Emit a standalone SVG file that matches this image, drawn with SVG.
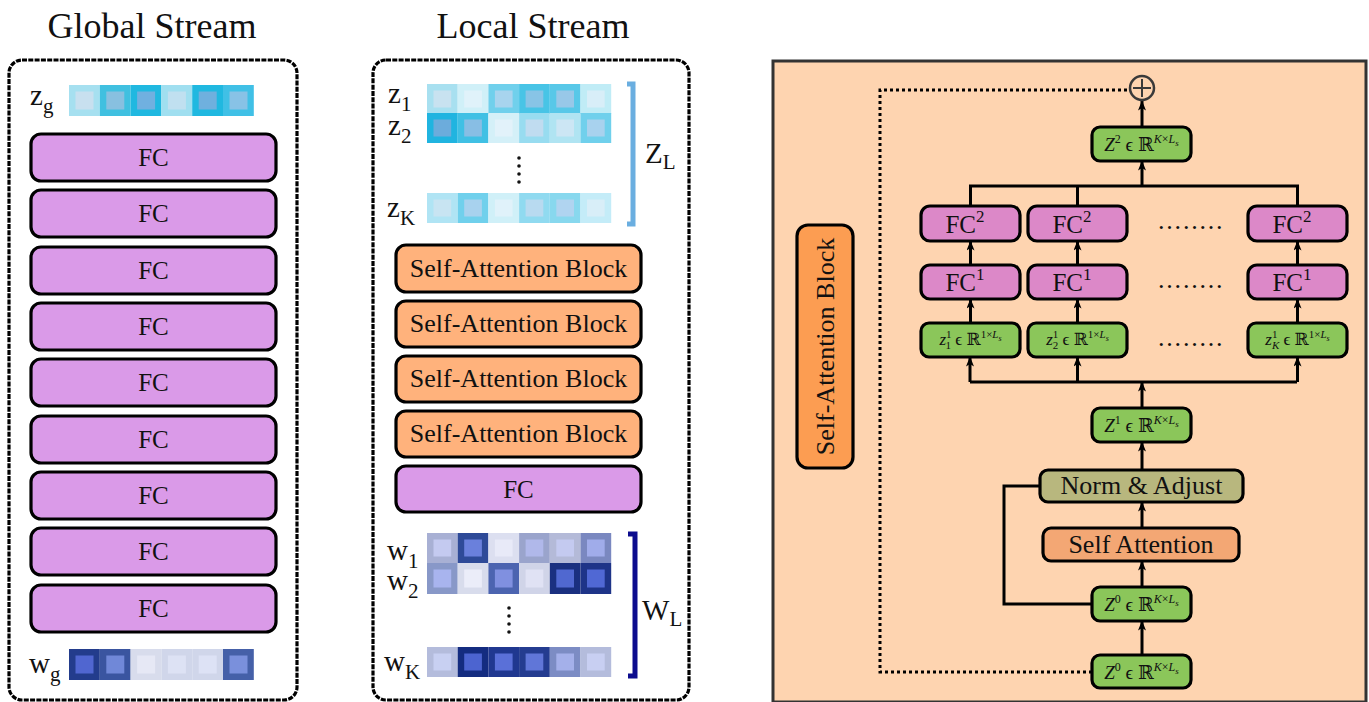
<svg xmlns="http://www.w3.org/2000/svg" width="1369" height="702" viewBox="0 0 1369 702">
<defs>
<marker id="ah" markerUnits="userSpaceOnUse" markerWidth="10" markerHeight="8" refX="9.5" refY="4" orient="auto">
<path d="M0,0 L10,4 L0,8 L2.5,4 z" fill="#000"/>
</marker>
<style>
text{font-family:"Liberation Serif","DejaVu Serif",serif;fill:#111}
.title{font-size:36px;text-anchor:middle}
.stream{fill:#fff;stroke:#000;stroke-width:3.2;stroke-dasharray:5 1.3}
.box{stroke:#000;stroke-width:3.2}
.fcg{fill:#da9ae8}
.sab{fill:#ffb27c}
.fcr{fill:#dc88c8}
.grn{fill:#8bc65a}
.lbl{font-size:25px;text-anchor:middle}
.lbl26{font-size:26px;text-anchor:middle}
.math{font-size:19px;text-anchor:middle}
.mz{font-size:17px;text-anchor:middle}
.var{font-size:29px}
.it{font-style:italic}
.conn{fill:none;stroke:#000;stroke-width:3}
.arr{fill:none;stroke:#000;stroke-width:3;marker-end:url(#ah)}
.dot{fill:none;stroke:#000;stroke-width:3;stroke-dasharray:3 3}
</style>
</defs>

<rect x="0" y="0" width="1369" height="702" fill="#fff"/>

<!-- Global stream -->
<g id="global-stream">
<text class="title" x="152" y="38">Global Stream</text>
<rect class="stream" x="9" y="60" width="288" height="640" rx="13"/>
<text class="var" x="30" y="105">z<tspan font-size="21" dy="8">g</tspan></text>
<g id="zg-row">
<rect x="69" y="85" width="30.8" height="31" fill="#a6e0f0"/><rect x="75.5" y="91.5" width="18" height="18" fill="#c8e0ef"/>
<rect x="99.8" y="85" width="30.8" height="31" fill="#40c0e0"/><rect x="106.3" y="91.5" width="18" height="18" fill="#88c0e0"/>
<rect x="130.6" y="85" width="30.8" height="31" fill="#20b8e0"/><rect x="137.1" y="91.5" width="18" height="18" fill="#70b0e0"/>
<rect x="161.4" y="85" width="30.8" height="31" fill="#a0dff0"/><rect x="167.9" y="91.5" width="18" height="18" fill="#c0e0f0"/>
<rect x="192.2" y="85" width="30.8" height="31" fill="#20b8e0"/><rect x="198.7" y="91.5" width="18" height="18" fill="#6fb0de"/>
<rect x="223" y="85" width="30.8" height="31" fill="#40c0e6"/><rect x="229.5" y="91.5" width="18" height="18" fill="#88c2e6"/>
</g>
<g id="g-fc1"><rect class="box fcg" x="31" y="134" width="245" height="47" rx="10"/><text class="lbl" x="153.5" y="166">FC</text></g>
<g id="g-fc2"><rect class="box fcg" x="31" y="190" width="245" height="47" rx="10"/><text class="lbl" x="153.5" y="222">FC</text></g>
<g id="g-fc3"><rect class="box fcg" x="31" y="247" width="245" height="47" rx="10"/><text class="lbl" x="153.5" y="279">FC</text></g>
<g id="g-fc4"><rect class="box fcg" x="31" y="303" width="245" height="47" rx="10"/><text class="lbl" x="153.5" y="335">FC</text></g>
<g id="g-fc5"><rect class="box fcg" x="31" y="359" width="245" height="47" rx="10"/><text class="lbl" x="153.5" y="391">FC</text></g>
<g id="g-fc6"><rect class="box fcg" x="31" y="416" width="245" height="47" rx="10"/><text class="lbl" x="153.5" y="448">FC</text></g>
<g id="g-fc7"><rect class="box fcg" x="31" y="472" width="245" height="47" rx="10"/><text class="lbl" x="153.5" y="504">FC</text></g>
<g id="g-fc8"><rect class="box fcg" x="31" y="528" width="245" height="47" rx="10"/><text class="lbl" x="153.5" y="560">FC</text></g>
<g id="g-fc9"><rect class="box fcg" x="31" y="585" width="245" height="47" rx="10"/><text class="lbl" x="153.5" y="617">FC</text></g>
<text class="var" x="29" y="673">w<tspan font-size="21" dy="8">g</tspan></text>
<g id="wg-row">
<rect x="69" y="649" width="30.8" height="31" fill="#233c8c"/><rect x="75.5" y="655.5" width="18" height="18" fill="#5066d0"/>
<rect x="99.8" y="649" width="30.8" height="31" fill="#3a55a0"/><rect x="106.3" y="655.5" width="18" height="18" fill="#7088d8"/>
<rect x="130.6" y="649" width="30.8" height="31" fill="#d8dcec"/><rect x="137.1" y="655.5" width="18" height="18" fill="#e6e8f5"/>
<rect x="161.4" y="649" width="30.8" height="31" fill="#d0d6ea"/><rect x="167.9" y="655.5" width="18" height="18" fill="#dde2f4"/>
<rect x="192.2" y="649" width="30.8" height="31" fill="#d0d6ea"/><rect x="198.7" y="655.5" width="18" height="18" fill="#dde2f5"/>
<rect x="223" y="649" width="30.8" height="31" fill="#4560a8"/><rect x="229.5" y="655.5" width="18" height="18" fill="#7a90dc"/>
</g>
</g>

<!-- Local stream -->
<g id="local-stream">
<text class="title" x="533" y="38">Local Stream</text>
<rect class="stream" x="373" y="60" width="316" height="640" rx="13"/>
<text class="var" x="388" y="103">z<tspan font-size="21" dy="8">1</tspan></text>
<text class="var" x="388" y="135">z<tspan font-size="21" dy="8">2</tspan></text>
<text class="var" x="387" y="217">z<tspan font-size="21" dy="8">K</tspan></text>
<g id="z1-row">
<rect x="427" y="84" width="30.7" height="30" fill="#a8e0f0"/><rect x="433.5" y="90.5" width="17.7" height="17" fill="#c8e2f0"/>
<rect x="457.7" y="84" width="30.7" height="30" fill="#d0f0f8"/><rect x="464.2" y="90.5" width="17.7" height="17" fill="#e0f2fa"/>
<rect x="488.4" y="84" width="30.7" height="30" fill="#70d0ec"/><rect x="494.9" y="90.5" width="17.7" height="17" fill="#a8d4ee"/>
<rect x="519.1" y="84" width="30.7" height="30" fill="#48c4e6"/><rect x="525.6" y="90.5" width="17.7" height="17" fill="#88c4e6"/>
<rect x="549.8" y="84" width="30.7" height="30" fill="#58c8e8"/><rect x="556.3" y="90.5" width="17.7" height="17" fill="#98c8e8"/>
<rect x="580.5" y="84" width="30.7" height="30" fill="#c0ecf6"/><rect x="587" y="90.5" width="17.7" height="17" fill="#d8eef8"/>
</g>
<g id="z2-row">
<rect x="427" y="113" width="30.7" height="30" fill="#20b4e0"/><rect x="433.5" y="119.5" width="17.7" height="17" fill="#6cacdc"/>
<rect x="457.7" y="113" width="30.7" height="30" fill="#40c0e4"/><rect x="464.2" y="119.5" width="17.7" height="17" fill="#88bee4"/>
<rect x="488.4" y="113" width="30.7" height="30" fill="#d4f0f8"/><rect x="494.9" y="119.5" width="17.7" height="17" fill="#e2f2fa"/>
<rect x="519.1" y="113" width="30.7" height="30" fill="#98dcf0"/><rect x="525.6" y="119.5" width="17.7" height="17" fill="#c0dcf0"/>
<rect x="549.8" y="113" width="30.7" height="30" fill="#b0e4f2"/><rect x="556.3" y="119.5" width="17.7" height="17" fill="#cce6f4"/>
<rect x="580.5" y="113" width="30.7" height="30" fill="#70d0ec"/><rect x="587" y="119.5" width="17.7" height="17" fill="#a8d2ee"/>
</g>
<g id="z-dots" fill="#111">
<circle cx="519" cy="158" r="1.8"/><circle cx="519" cy="166" r="1.8"/><circle cx="519" cy="174" r="1.8"/><circle cx="519" cy="182" r="1.8"/>
</g>
<g id="zK-row">
<rect x="427" y="193" width="30.7" height="30" fill="#b0e4f4"/><rect x="433.5" y="199.5" width="17.7" height="17" fill="#c8e4f2"/>
<rect x="457.7" y="193" width="30.7" height="30" fill="#70d0ec"/><rect x="464.2" y="199.5" width="17.7" height="17" fill="#a8d2ee"/>
<rect x="488.4" y="193" width="30.7" height="30" fill="#d0f0f8"/><rect x="494.9" y="199.5" width="17.7" height="17" fill="#e0f2fa"/>
<rect x="519.1" y="193" width="30.7" height="30" fill="#90daf0"/><rect x="525.6" y="199.5" width="17.7" height="17" fill="#b8daf0"/>
<rect x="549.8" y="193" width="30.7" height="30" fill="#88d8ee"/><rect x="556.3" y="199.5" width="17.7" height="17" fill="#b0d4f0"/>
<rect x="580.5" y="193" width="30.7" height="30" fill="#c4ecf8"/><rect x="587" y="199.5" width="17.7" height="17" fill="#d8eef8"/>
</g>
<path d="M627,84 H633 V224 H627" fill="none" stroke="#6aaee0" stroke-width="5"/>
<text class="var" x="645" y="163" font-size="31">Z<tspan font-size="21" dy="6">L</tspan></text>

<g id="l-sab1"><rect class="box sab" x="396" y="245" width="245" height="47" rx="10"/><text class="lbl26" x="518.5" y="277">Self-Attention Block</text></g>
<g id="l-sab2"><rect class="box sab" x="396" y="301" width="245" height="46" rx="10"/><text class="lbl26" x="518.5" y="332">Self-Attention Block</text></g>
<g id="l-sab3"><rect class="box sab" x="396" y="356" width="245" height="46" rx="10"/><text class="lbl26" x="518.5" y="387">Self-Attention Block</text></g>
<g id="l-sab4"><rect class="box sab" x="396" y="411" width="245" height="46" rx="10"/><text class="lbl26" x="518.5" y="442">Self-Attention Block</text></g>
<g id="l-fc"><rect class="box fcg" x="396" y="466" width="245" height="46" rx="10"/><text class="lbl" x="518.5" y="498">FC</text></g>

<text class="var" x="387" y="560">w<tspan font-size="21" dy="8">1</tspan></text>
<text class="var" x="387" y="590">w<tspan font-size="21" dy="8">2</tspan></text>
<text class="var" x="384" y="671">w<tspan font-size="21" dy="8">K</tspan></text>
<g id="w1-row">
<rect x="427" y="533" width="30.7" height="30" fill="#a8b0d4"/><rect x="433.5" y="539.5" width="17.7" height="17" fill="#c4caf0"/>
<rect x="457.7" y="533" width="30.7" height="30" fill="#2e4a98"/><rect x="464.2" y="539.5" width="17.7" height="17" fill="#6a80dc"/>
<rect x="488.4" y="533" width="30.7" height="30" fill="#dcdff0"/><rect x="494.9" y="539.5" width="17.7" height="17" fill="#e8eaf8"/>
<rect x="519.1" y="533" width="30.7" height="30" fill="#9aa4cc"/><rect x="525.6" y="539.5" width="17.7" height="17" fill="#b0b8ea"/>
<rect x="549.8" y="533" width="30.7" height="30" fill="#b4bad8"/><rect x="556.3" y="539.5" width="17.7" height="17" fill="#c4caf0"/>
<rect x="580.5" y="533" width="30.7" height="30" fill="#7a88c0"/><rect x="587" y="539.5" width="17.7" height="17" fill="#a0acea"/>
</g>
<g id="w2-row">
<rect x="427" y="563" width="30.7" height="31" fill="#8898c8"/><rect x="433.5" y="569.5" width="17.7" height="18" fill="#a8b4ee"/>
<rect x="457.7" y="563" width="30.7" height="31" fill="#d8dcec"/><rect x="464.2" y="569.5" width="17.7" height="18" fill="#ebedf9"/>
<rect x="488.4" y="563" width="30.7" height="31" fill="#4c64b0"/><rect x="494.9" y="569.5" width="17.7" height="18" fill="#8090e0"/>
<rect x="519.1" y="563" width="30.7" height="31" fill="#d0d4e8"/><rect x="525.6" y="569.5" width="17.7" height="18" fill="#e0e2f4"/>
<rect x="549.8" y="563" width="30.7" height="31" fill="#1a3080"/><rect x="556.3" y="569.5" width="17.7" height="18" fill="#5068d0"/>
<rect x="580.5" y="563" width="30.7" height="31" fill="#1e3488"/><rect x="587" y="569.5" width="17.7" height="18" fill="#5068d4"/>
</g>
<g id="w-dots" fill="#111">
<circle cx="509" cy="608" r="1.8"/><circle cx="509" cy="616" r="1.8"/><circle cx="509" cy="624" r="1.8"/><circle cx="509" cy="632" r="1.8"/>
</g>
<g id="wK-row">
<rect x="427" y="647" width="30.7" height="30" fill="#b4bcdc"/><rect x="433.5" y="653.5" width="17.7" height="17" fill="#c8d0f2"/>
<rect x="457.7" y="647" width="30.7" height="30" fill="#142c80"/><rect x="464.2" y="653.5" width="17.7" height="17" fill="#4c64d0"/>
<rect x="488.4" y="647" width="30.7" height="30" fill="#203890"/><rect x="494.9" y="653.5" width="17.7" height="17" fill="#5a70d8"/>
<rect x="519.1" y="647" width="30.7" height="30" fill="#243c90"/><rect x="525.6" y="653.5" width="17.7" height="17" fill="#6076d8"/>
<rect x="549.8" y="647" width="30.7" height="30" fill="#7c8cc4"/><rect x="556.3" y="653.5" width="17.7" height="17" fill="#a4b0ea"/>
<rect x="580.5" y="647" width="30.7" height="30" fill="#b4bcdc"/><rect x="587" y="653.5" width="17.7" height="17" fill="#c8cff2"/>
</g>
<path d="M628,534 H635 V676 H628" fill="none" stroke="#0c0c8e" stroke-width="5"/>
<text class="var" x="642" y="620" font-size="31">W<tspan font-size="21" dy="6">L</tspan></text>
</g>

<!-- Right panel -->
<g id="sab-panel">
<rect x="773" y="61" width="593" height="641" fill="#fed4b0" stroke="#333" stroke-width="3"/>
</g>
<g id="sab-label">
<rect class="box" x="797" y="225" width="56" height="243" rx="11" fill="#fc9d52"/>
<text class="lbl26" transform="translate(834,346.5) rotate(-90)" x="0" y="0">Self-Attention Block</text>
</g>

<g id="connectors">
<path class="dot" d="M1092,672 H880 V90 H1130"/>
<path class="conn" d="M1092,604 H1004 V486 H1040"/>
<path class="arr" d="M1142,655 V621"/>
<path class="arr" d="M1142,587 V561"/>
<path class="arr" d="M1142,528 V502"/>
<path class="arr" d="M1142,470 V442"/>
<path class="arr" d="M1142,408 V382"/>
<path class="conn" d="M970,382 H1297"/>
<path class="arr" d="M970,382 V357"/>
<path class="arr" d="M1077.5,382 V357"/>
<path class="arr" d="M1297.5,382 V357"/>
<path class="arr" d="M970.5,323 V299"/>
<path class="arr" d="M1077.5,323 V299"/>
<path class="arr" d="M1297.5,323 V299"/>
<path class="arr" d="M970.5,265 V241"/>
<path class="arr" d="M1077.5,265 V241"/>
<path class="arr" d="M1297.5,265 V241"/>
<path class="conn" d="M970.5,206 V186 H1297.5 V206 M1077.5,186 V206"/>
<path class="arr" d="M1142,186 V161"/>
<path class="arr" d="M1142,127 V101"/>
</g>

<g id="oplus">
<circle cx="1142" cy="88" r="12" fill="#fed4b0" stroke="#3a3a3a" stroke-width="2.5"/>
<path d="M1142,79 V97 M1133,88 H1151" stroke="#3a3a3a" stroke-width="2"/>
</g>

<g id="z2">
<rect class="box grn" x="1092" y="127" width="99" height="34" rx="8"/>
<text class="math" x="1141.5" y="151"><tspan class="it">Z</tspan><tspan font-size="12" dy="-8">2</tspan><tspan dy="8"> ϵ ℝ</tspan><tspan font-size="12" dy="-8" class="it">K</tspan><tspan font-size="12">×</tspan><tspan font-size="12" class="it">L</tspan><tspan font-size="9" dy="3" class="it">s</tspan></text>
</g>

<g id="fc2-1"><rect class="box fcr" x="921" y="206" width="99" height="35" rx="9"/><text class="lbl" x="965" y="233" font-size="28">FC<tspan font-size="17" dy="-11">2</tspan></text></g>
<g id="fc2-2"><rect class="box fcr" x="1028" y="206" width="99" height="35" rx="9"/><text class="lbl" x="1072" y="233" font-size="28">FC<tspan font-size="17" dy="-11">2</tspan></text></g>
<g id="fc2-k"><rect class="box fcr" x="1248" y="206" width="99" height="35" rx="9"/><text class="lbl" x="1292" y="233" font-size="28">FC<tspan font-size="17" dy="-11">2</tspan></text></g>

<g id="fc1-1"><rect class="box fcr" x="921" y="265" width="99" height="34" rx="9"/><text class="lbl" x="965" y="291" font-size="28">FC<tspan font-size="17" dy="-11">1</tspan></text></g>
<g id="fc1-2"><rect class="box fcr" x="1028" y="265" width="99" height="34" rx="9"/><text class="lbl" x="1072" y="291" font-size="28">FC<tspan font-size="17" dy="-11">1</tspan></text></g>
<g id="fc1-k"><rect class="box fcr" x="1248" y="265" width="99" height="34" rx="9"/><text class="lbl" x="1292" y="291" font-size="28">FC<tspan font-size="17" dy="-11">1</tspan></text></g>

<g id="zs-1"><rect class="box grn" x="921" y="323" width="99" height="34" rx="8"/>
<text class="mz" x="970.5" y="345"><tspan class="it">z</tspan><tspan font-size="11" dy="-7">1</tspan><tspan font-size="11" dx="-5.5" dy="11">1</tspan><tspan dy="-4"> ϵ ℝ</tspan><tspan font-size="11" dy="-7">1×</tspan><tspan font-size="11" class="it">L</tspan><tspan font-size="8" dy="3" class="it">s</tspan></text></g>
<g id="zs-2"><rect class="box grn" x="1028" y="323" width="99" height="34" rx="8"/>
<text class="mz" x="1077.5" y="345"><tspan class="it">z</tspan><tspan font-size="11" dy="-7">1</tspan><tspan font-size="11" dx="-5.5" dy="11">2</tspan><tspan dy="-4"> ϵ ℝ</tspan><tspan font-size="11" dy="-7">1×</tspan><tspan font-size="11" class="it">L</tspan><tspan font-size="8" dy="3" class="it">s</tspan></text></g>
<g id="zs-k"><rect class="box grn" x="1248" y="323" width="99" height="34" rx="8"/>
<text class="mz" x="1297.5" y="345"><tspan class="it">z</tspan><tspan font-size="11" dy="-7">1</tspan><tspan font-size="11" dx="-5.5" dy="11" class="it">K</tspan><tspan dy="-4"> ϵ ℝ</tspan><tspan font-size="11" dy="-7">1×</tspan><tspan font-size="11" class="it">L</tspan><tspan font-size="8" dy="3" class="it">s</tspan></text></g>

<g id="dots-row" font-size="26">
<text x="1158" y="229" letter-spacing="1.8">........</text>
<text x="1158" y="288" letter-spacing="1.8">........</text>
<text x="1158" y="346" letter-spacing="1.8">........</text>
</g>

<g id="z1">
<rect class="box grn" x="1092" y="408" width="99" height="34" rx="8"/>
<text class="math" x="1141.5" y="432"><tspan class="it">Z</tspan><tspan font-size="12" dy="-8">1</tspan><tspan dy="8"> ϵ ℝ</tspan><tspan font-size="12" dy="-8" class="it">K</tspan><tspan font-size="12">×</tspan><tspan font-size="12" class="it">L</tspan><tspan font-size="9" dy="3" class="it">s</tspan></text>
</g>
<g id="norm">
<rect class="box" x="1040" y="470" width="203" height="32" rx="8" fill="#b8b77e"/>
<text class="lbl26" x="1141.5" y="494">Norm &amp; Adjust</text>
</g>
<g id="self-attn">
<rect class="box" x="1043" y="528" width="196" height="33" rx="8" fill="#f3a774"/>
<text class="lbl26" x="1141" y="553">Self Attention</text>
</g>
<g id="z0">
<rect class="box grn" x="1092" y="587" width="99" height="34" rx="8"/>
<text class="math" x="1141.5" y="611"><tspan class="it">Z</tspan><tspan font-size="12" dy="-8">0</tspan><tspan dy="8"> ϵ ℝ</tspan><tspan font-size="12" dy="-8" class="it">K</tspan><tspan font-size="12">×</tspan><tspan font-size="12" class="it">L</tspan><tspan font-size="9" dy="3" class="it">s</tspan></text>
</g>
<g id="z0-in">
<rect class="box grn" x="1092" y="655" width="99" height="33" rx="8"/>
<text class="math" x="1141.5" y="679"><tspan class="it">Z</tspan><tspan font-size="12" dy="-8">0</tspan><tspan dy="8"> ϵ ℝ</tspan><tspan font-size="12" dy="-8" class="it">K</tspan><tspan font-size="12">×</tspan><tspan font-size="12" class="it">L</tspan><tspan font-size="9" dy="3" class="it">s</tspan></text>
</g>
</svg>
